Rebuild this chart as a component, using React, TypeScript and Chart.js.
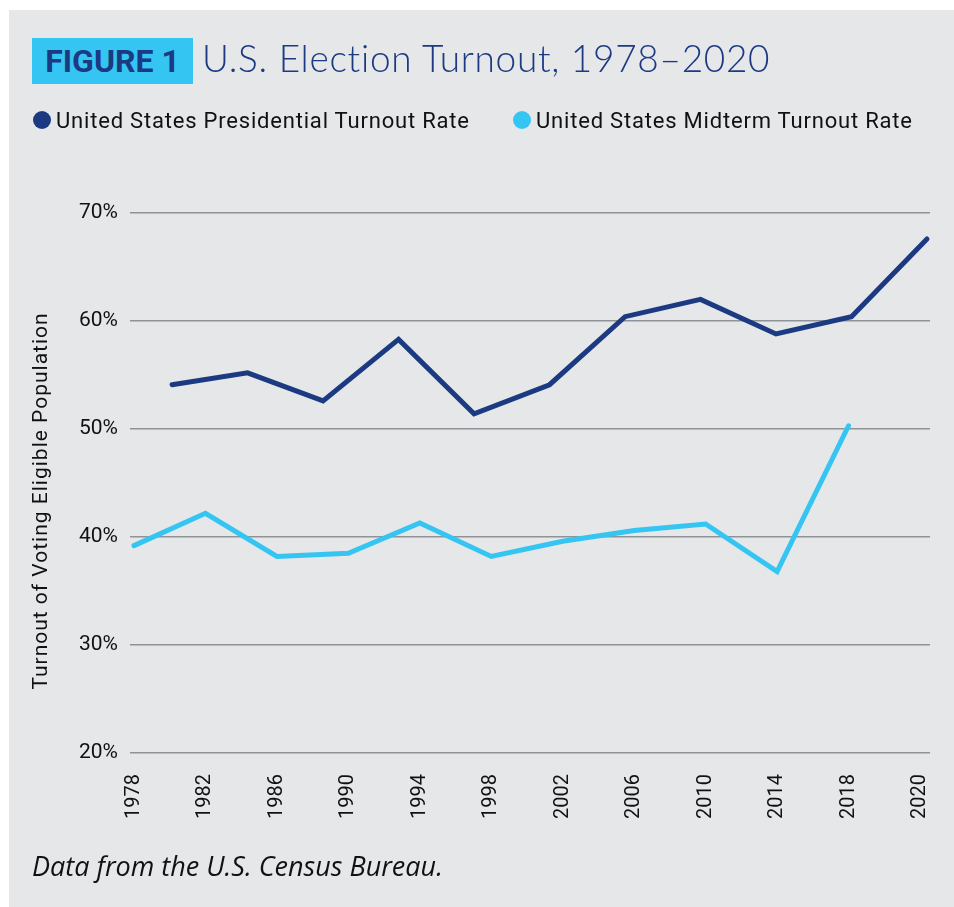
import React, { useEffect, useRef } from 'react';
import { Chart, registerables } from 'chart.js';

Chart.register(...registerables);

// ---- data ----
const xTickLabels = ['1978', '1982', '1986', '1990', '1994', '1998', '2002', '2006', '2010', '2014', '2018', '2020'];
const midtermYears = [1978, 1982, 1986, 1990, 1994, 1998, 2002, 2006, 2010, 2014, 2018];
const midtermTurnout = [39.2, 42.2, 38.2, 38.5, 41.3, 38.2, 39.6, 40.6, 41.2, 36.8, 50.3];
const presidentialYears = [1980, 1984, 1988, 1992, 1996, 2000, 2004, 2008, 2012, 2016, 2020];
const presidentialTurnout = [54.1, 55.2, 52.6, 58.3, 51.4, 54.1, 60.4, 62.0, 58.8, 60.4, 67.6];
const yTickValues = [20, 30, 40, 50, 60, 70];
const yAxisTitle = 'Turnout of Voting Eligible Population';

const NAVY = '#1b3a82';
const CYAN = '#35c5f2';
const GRID = '#8e9398';
const TEXT = '#111111';

// Draws the y-axis title slightly below the axis centre, as in the reference.
const yTitlePlugin = {
  id: 'yTitlePlugin',
  afterDraw(chart: any) {
    const { ctx, chartArea } = chart;
    const cy = (chartArea.top + chartArea.bottom) / 2 + 18;
    ctx.save();
    ctx.translate(42, cy);
    ctx.rotate(-Math.PI / 2);
    ctx.textAlign = 'center';
    ctx.textBaseline = 'middle';
    ctx.fillStyle = TEXT;
    ctx.font = '21px Roboto';
    try {
      (ctx as any).letterSpacing = '1px';
    } catch (e) {
      /* ignore */
    }
    ctx.fillText(yAxisTitle, 0, 0);
    ctx.restore();
  },
};

export default function App() {
  const canvasRef = useRef<HTMLCanvasElement | null>(null);

  useEffect(() => {
    const canvas = canvasRef.current;
    if (!canvas) return;

    const midtermPoints = midtermYears.map((yr, i) => ({
      x: xTickLabels.indexOf(String(yr)),
      y: midtermTurnout[i],
    }));
    const presidentialPoints = presidentialYears.map((yr, i) => ({
      x: yr,
      y: presidentialTurnout[i],
    }));

    const chart = new Chart(canvas, {
      type: 'line',
      data: {
        datasets: [
          {
            label: 'United States Presidential Turnout Rate',
            data: presidentialPoints,
            xAxisID: 'xp',
            yAxisID: 'y',
            borderColor: NAVY,
            backgroundColor: NAVY,
            borderWidth: 5,
            pointRadius: 0,
            tension: 0,
            borderCapStyle: 'round',
            borderJoinStyle: 'miter',
            clip: false,
          },
          {
            label: 'United States Midterm Turnout Rate',
            data: midtermPoints,
            xAxisID: 'x',
            yAxisID: 'y',
            borderColor: CYAN,
            backgroundColor: CYAN,
            borderWidth: 5,
            pointRadius: 0,
            tension: 0,
            borderCapStyle: 'round',
            borderJoinStyle: 'miter',
            clip: false,
          },
        ],
      },
      options: {
        animation: false,
        responsive: false,
        maintainAspectRatio: false,
        events: [],
        layout: {
          padding: { top: 213, right: 24, bottom: 74, left: 26 },
        },
        plugins: {
          legend: { display: false },
          tooltip: { enabled: false },
          title: { display: false },
        },
        scales: {
          x: {
            type: 'linear',
            position: 'bottom',
            min: -0.056,
            max: 11.14,
            afterBuildTicks: (scale: any) => {
              scale.ticks = xTickLabels.map((_, i) => ({ value: i }));
            },
            afterFit: (scale: any) => {
              scale.height = 80;
              scale.paddingLeft = 0;
              scale.paddingRight = 0;
            },
            ticks: {
              autoSkip: false,
              minRotation: 90,
              maxRotation: 90,
              padding: 21,
              color: TEXT,
              font: { family: 'Roboto', size: 20 },
              callback: (v: any) => xTickLabels[Math.round(Number(v))] ?? '',
            },
            grid: { display: false, drawTicks: false },
            border: { display: false },
          },
          xp: {
            type: 'linear',
            display: false,
            min: 1977.77,
            max: 2020.16,
          },
          y: {
            type: 'linear',
            position: 'left',
            min: 20,
            max: 70,
            afterBuildTicks: (scale: any) => {
              scale.ticks = yTickValues.map((v) => ({ value: v }));
            },
            afterFit: (scale: any) => {
              scale.width = 104;
              scale.paddingTop = 0;
              scale.paddingBottom = 0;
            },
            ticks: {
              padding: 12,
              color: TEXT,
              font: { family: 'Roboto', size: 21 },
              callback: (v: any) => `${v}%`,
            },
            grid: {
              color: GRID,
              lineWidth: 1.5,
              drawTicks: false,
            },
            border: { display: false },
            title: { display: false },
          },
        },
      },
      plugins: [yTitlePlugin],
    });

    return () => {
      chart.destroy();
    };
  }, []);

  return (
    <div
      style={{
        position: 'absolute',
        left: 0,
        top: 0,
        width: 954,
        height: 907,
        overflow: 'hidden',
        background: '#ffffff',
      }}
    >
      <div
        style={{
          position: 'absolute',
          left: 9,
          top: 10,
          width: 945,
          height: 897,
          background: '#e6e7e9',
        }}
      />
      <canvas
        ref={canvasRef}
        width={954}
        height={907}
        style={{ position: 'absolute', left: 0, top: 0, width: 954, height: 907 }}
      />
      {/* Title */}
      <div
        style={{
          position: 'absolute',
          left: 32,
          top: 38,
          width: 161,
          height: 46,
          background: CYAN,
          color: NAVY,
          fontFamily: 'Roboto, sans-serif',
          fontWeight: 700,
          fontSize: 32,
          lineHeight: '46px',
          textAlign: 'center',
          whiteSpace: 'nowrap',
        }}
      >
        FIGURE 1
      </div>
      <div
        style={{
          position: 'absolute',
          left: 202,
          top: 35,
          color: NAVY,
          fontFamily: 'Lato, sans-serif',
          fontWeight: 300,
          fontSize: 37,
          letterSpacing: '0.7px',
          lineHeight: '46px',
          whiteSpace: 'nowrap',
        }}
      >
        U.S. Election Turnout, 1978–2020
      </div>
      {/* Legend */}
      <div
        style={{
          position: 'absolute',
          left: 33,
          top: 111,
          width: 18,
          height: 18,
          borderRadius: '50%',
          background: NAVY,
        }}
      />
      <div
        style={{
          position: 'absolute',
          left: 56,
          top: 109,
          color: TEXT,
          fontFamily: 'Roboto, sans-serif',
          fontSize: 22,
          letterSpacing: '0.8px',
          lineHeight: '24px',
          whiteSpace: 'nowrap',
        }}
      >
        United States Presidential Turnout Rate
      </div>
      <div
        style={{
          position: 'absolute',
          left: 513,
          top: 111,
          width: 18,
          height: 18,
          borderRadius: '50%',
          background: CYAN,
        }}
      />
      <div
        style={{
          position: 'absolute',
          left: 536,
          top: 109,
          color: TEXT,
          fontFamily: 'Roboto, sans-serif',
          fontSize: 22,
          letterSpacing: '0.8px',
          lineHeight: '24px',
          whiteSpace: 'nowrap',
        }}
      >
        United States Midterm Turnout Rate
      </div>
      {/* Footer */}
      <div
        style={{
          position: 'absolute',
          left: 32,
          top: 850,
          color: TEXT,
          fontFamily: '"Open Sans", sans-serif',
          fontStyle: 'italic',
          fontSize: 27,
          lineHeight: '32px',
          whiteSpace: 'nowrap',
        }}
      >
        Data from the U.S. Census Bureau.
      </div>
    </div>
  );
}
